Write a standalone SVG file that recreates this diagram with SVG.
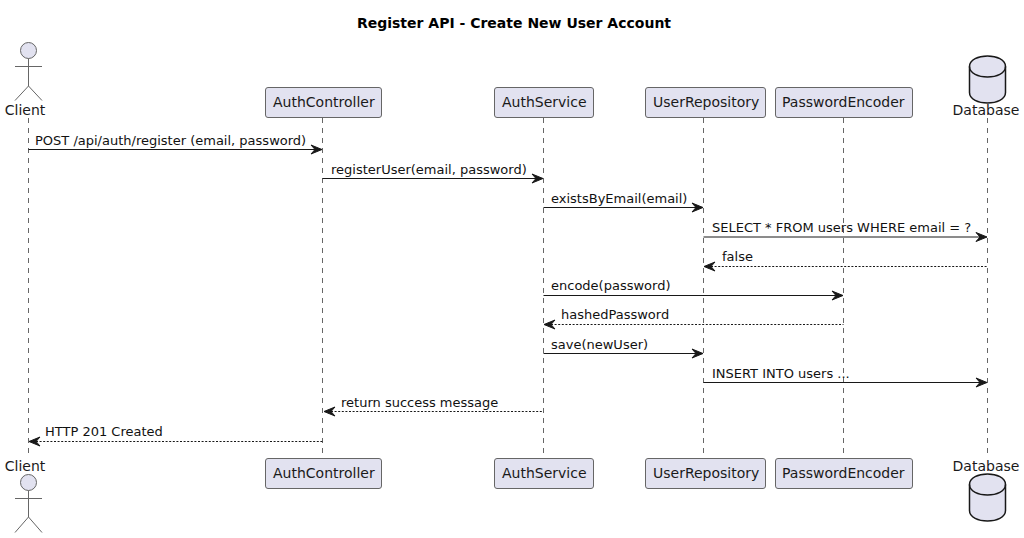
<svg xmlns="http://www.w3.org/2000/svg" width="1024" height="538" viewBox="0 0 1024 538">
<style>
text{font-family:"DejaVu Sans",sans-serif;font-size:13px;fill:#111}
.t{font-size:14px;font-weight:bold;fill:#000}
.n{font-size:14px;fill:#1a1a1a}
.life{stroke:#666;stroke-width:1;stroke-dasharray:5 5;fill:none}
.box{fill:#E2E2F0;stroke:#666;stroke-width:1}
.st{fill:none;stroke:#666;stroke-width:1}
.m{stroke:#181818;stroke-width:1;fill:none}
.d{stroke-dasharray:2 1.6}
.h{fill:#181818;stroke:#181818;stroke-width:1}
.db{fill:#E2E2F0;stroke:#181818;stroke-width:1.5}
.dl{fill:none;stroke:#181818;stroke-width:1.5}
</style>
<defs>
<path id="ar" class="h" d="M0 0L-11-4.5L-7 0L-11 4.5Z"/>
<path id="al" class="h" d="M0 0L11-4.5L7 0L11 4.5Z"/>
</defs>
<text class="t" x="514" y="28" text-anchor="middle">Register API - Create New User Account</text>
<g id="lifelines">
<path class="life" d="M28.5 118V455M322.5 118V455M543.5 118V455M703.5 118V455M843.5 118V455M987.5 118V455"/>
</g>
<g id="connectors">
<path class="m" d="M28.5 149.5H316"/><use href="#ar" x="322" y="149.5"/>
<text x="35" y="145">POST /api/auth/register (email, password)</text>
<path class="m" d="M322.5 178.5H537"/><use href="#ar" x="543" y="178.5"/>
<text x="331" y="174">registerUser(email, password)</text>
<path class="m" d="M543.5 207.5H697"/><use href="#ar" x="703" y="207.5"/>
<text x="551" y="203">existsByEmail(email)</text>
<path class="m" d="M703.5 237H981"/><use href="#ar" x="987" y="237"/>
<text x="712" y="232">SELECT * FROM users WHERE email = ?</text>
<path class="m d" d="M711 266.5H987.5"/><use href="#al" x="704" y="266.5"/>
<text x="722" y="261">false</text>
<path class="m" d="M543.5 295.5H837"/><use href="#ar" x="843" y="295.5"/>
<text x="551" y="290">encode(password)</text>
<path class="m d" d="M551 324.5H843.5"/><use href="#al" x="544" y="324.5"/>
<text x="561" y="319">hashedPassword</text>
<path class="m" d="M543.5 353.5H697"/><use href="#ar" x="703" y="353.5"/>
<text x="551" y="349">save(newUser)</text>
<path class="m" d="M703.5 382.5H981"/><use href="#ar" x="987" y="382.5"/>
<text x="712" y="378">INSERT INTO users ...</text>
<path class="m d" d="M331 411.5H543.5"/><use href="#al" x="324" y="411.5"/>
<text x="341" y="407">return success message</text>
<path class="m d" d="M36 441.5H322.5"/><use href="#al" x="29" y="441.5"/>
<text x="45" y="436">HTTP 201 Created</text>
</g>
<g id="client-top">
<circle class="box" cx="28.5" cy="50.5" r="8"/>
<path class="st" d="M28.5 58.5V86M15 66.5H42M15 100.5L28.5 86L42 100.5"/>
<text class="n" x="25" y="115" text-anchor="middle">Client</text>
</g>
<g id="client-bottom">
<text class="n" x="25" y="471" text-anchor="middle">Client</text>
<circle class="box" cx="28.5" cy="482.5" r="8"/>
<path class="st" d="M28.5 490.5V517M15 498.5H42M15 532.5L28.5 517L42 532.5"/>
</g>
<g id="authcontroller-top"><rect class="box" x="265.5" y="87.5" width="116" height="30" rx="2.5"/><text class="n" x="273" y="107">AuthController</text></g>
<g id="authcontroller-bottom"><rect class="box" x="265.5" y="458.5" width="116" height="30" rx="2.5"/><text class="n" x="273" y="478">AuthController</text></g>
<g id="authservice-top"><rect class="box" x="494.5" y="87.5" width="99" height="30" rx="2.5"/><text class="n" x="502" y="107">AuthService</text></g>
<g id="authservice-bottom"><rect class="box" x="494.5" y="458.5" width="99" height="30" rx="2.5"/><text class="n" x="502" y="478">AuthService</text></g>
<g id="userrepository-top"><rect class="box" x="645.5" y="87.5" width="120" height="30" rx="2.5"/><text class="n" x="653" y="107">UserRepository</text></g>
<g id="userrepository-bottom"><rect class="box" x="645.5" y="458.5" width="120" height="30" rx="2.5"/><text class="n" x="653" y="478">UserRepository</text></g>
<g id="passwordencoder-top"><rect class="box" x="775.5" y="87.5" width="137" height="30" rx="2.5"/><text class="n" x="782" y="107">PasswordEncoder</text></g>
<g id="passwordencoder-bottom"><rect class="box" x="775.5" y="458.5" width="137" height="30" rx="2.5"/><text class="n" x="782" y="478">PasswordEncoder</text></g>
<g id="database-top">
<path class="db" d="M969.5 66.5C969.5 52.5 1005.5 52.5 1005.5 66.5V92.5C1005.5 106.5 969.5 106.5 969.5 92.5Z"/>
<path class="dl" d="M969.5 66.5C969.5 80.5 1005.5 80.5 1005.5 66.5"/>
<text class="n" x="986" y="115" text-anchor="middle">Database</text>
</g>
<g id="database-bottom">
<text class="n" x="986" y="471" text-anchor="middle">Database</text>
<path class="db" d="M969.5 484.5C969.5 470.5 1005.5 470.5 1005.5 484.5V510.5C1005.5 524.5 969.5 524.5 969.5 510.5Z"/>
<path class="dl" d="M969.5 484.5C969.5 498.5 1005.5 498.5 1005.5 484.5"/>
</g>
</svg>
